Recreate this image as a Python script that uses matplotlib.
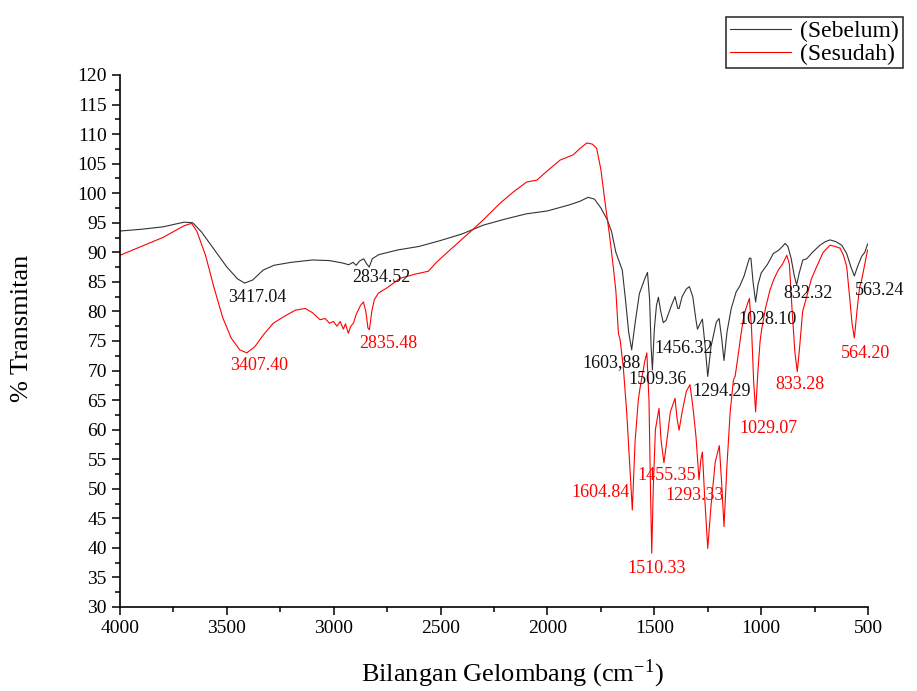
import matplotlib.pyplot as plt
from matplotlib.ticker import MultipleLocator

plt.rcParams['font.family'] = ['Liberation Serif', 'DejaVu Serif']
plt.rcParams['mathtext.fontset'] = 'stix'

# wavenumber (cm-1) / % transmittance
sebelum_wn = [4000, 3900, 3800, 3700, 3660, 3620, 3560, 3500, 3450, 3417, 3380, 3330,
              3280, 3200, 3100, 3020, 2960, 2930, 2910, 2895, 2880, 2860, 2845, 2834,
              2820, 2790, 2700, 2600, 2500, 2400, 2353, 2300, 2200, 2100, 2000, 1950,
              1900, 1850, 1810, 1780, 1750, 1720, 1700, 1680, 1665, 1650, 1635, 1620,
              1606, 1590, 1570, 1545, 1532, 1522, 1515, 1509, 1500, 1490, 1481, 1470,
              1458, 1445, 1420, 1403, 1390, 1384, 1370, 1350, 1336, 1320, 1305, 1298,
              1285, 1275, 1262, 1250, 1235, 1210, 1197, 1185, 1174, 1160, 1140, 1117,
              1100, 1080, 1067, 1055, 1048, 1038, 1026, 1015, 1000, 990, 970, 943,
              920, 900, 888, 875, 860, 845, 834, 822, 805, 787, 760, 725,
              700, 678, 650, 623, 600, 580, 564, 550, 530, 515, 502]
sebelum_t = [93.6, 93.9, 94.3, 95.1, 95.0, 93.5, 90.5, 87.5, 85.5, 84.8, 85.3, 87.0,
             87.8, 88.3, 88.7, 88.6, 88.2, 87.9, 88.3, 87.8, 88.5, 88.9, 88.0, 87.5,
             88.9, 89.6, 90.4, 91.0, 92.0, 93.1, 93.8, 94.6, 95.6, 96.5, 97.0, 97.5,
             98.0, 98.6, 99.3, 99.0, 97.5, 95.5, 93.5, 90.0, 88.5, 87.0, 82.0, 76.5,
             73.5, 78.0, 83.0, 85.5, 86.6, 82.0, 74.0, 70.1, 77.0, 81.0, 82.4, 80.0,
             78.1, 78.5, 81.0, 82.5, 80.5, 80.5, 82.5, 83.8, 84.2, 82.5, 78.5, 77.0,
             78.0, 78.7, 74.0, 69.0, 74.0, 78.2, 78.8, 75.5, 71.7, 76.5, 80.5, 83.3,
             84.3, 86.0, 87.6, 89.0, 89.0, 85.0, 81.6, 84.5, 86.5, 87.0, 88.0, 89.8,
             90.3, 91.0, 91.5, 91.0, 89.0, 86.0, 84.5, 86.5, 88.7, 88.9, 90.0, 91.2,
             91.8, 92.1, 91.8, 91.2, 89.8, 87.5, 86.0, 87.5, 89.3, 90.0, 91.4]

sesudah_wn = [4000, 3900, 3800, 3700, 3665, 3640, 3600, 3560, 3520, 3480, 3440, 3407,
              3370, 3330, 3283, 3230, 3180, 3134, 3100, 3064, 3040, 3020, 3002, 2985,
              2970, 2955, 2945, 2932, 2920, 2908, 2895, 2875, 2861, 2850, 2840, 2833,
              2822, 2810, 2791, 2750, 2690, 2620, 2557, 2520, 2456, 2400, 2351, 2300,
              2222, 2160, 2097, 2050, 2000, 1941, 1879, 1850, 1816, 1790, 1770, 1750,
              1730, 1710, 1692, 1680, 1668, 1660, 1645, 1629, 1615, 1603, 1590, 1575,
              1567, 1545, 1535, 1525, 1518, 1512, 1505, 1495, 1478, 1468, 1455, 1440,
              1425, 1403, 1394, 1384, 1370, 1350, 1333, 1320, 1305, 1291, 1282, 1275,
              1265, 1250, 1235, 1215, 1196, 1185, 1174, 1160, 1145, 1130, 1122, 1110,
              1095, 1080, 1062, 1055, 1045, 1035, 1026, 1015, 1005, 998, 980, 959,
              940, 920, 900, 880, 868, 855, 842, 831, 820, 806, 787, 765,
              740, 710, 678, 655, 631, 615, 600, 585, 575, 564, 552, 540,
              530, 515, 502]
sesudah_t = [89.5, 91.0, 92.5, 94.5, 94.9, 93.5, 89.5, 84.0, 79.0, 75.5, 73.5, 73.0,
             74.0, 76.0, 78.0, 79.2, 80.2, 80.5, 79.8, 78.6, 78.8, 78.0, 78.3, 77.5,
             78.3, 77.0, 77.9, 76.3, 77.5, 78.0, 79.5, 81.0, 81.6, 80.0, 77.2, 76.9,
             80.0, 82.0, 83.1, 84.0, 85.6, 86.3, 86.8, 88.3, 90.4, 92.2, 93.8, 95.5,
             98.3, 100.2, 101.9, 102.2, 103.8, 105.6, 106.5, 107.5, 108.5, 108.3, 107.6, 104.0,
             98.3, 93.0, 87.5, 83.5, 76.3, 75.2, 70.5, 62.8, 54.0, 46.4, 58.0, 65.0,
             67.0, 71.5, 73.0, 65.0, 50.0, 39.1, 50.0, 60.0, 63.6, 58.0, 54.4, 58.5,
             63.0, 65.3, 62.0, 59.9, 63.0, 66.5, 67.6, 64.0, 58.8, 51.5, 55.0, 56.2,
             49.0, 39.9, 47.0, 54.5, 57.3, 51.0, 43.6, 54.0, 63.0, 68.4, 69.0, 72.0,
             76.0, 79.5, 81.5, 82.2, 77.0, 68.0, 63.0, 70.0, 75.0, 76.9, 80.5, 83.6,
             85.5, 87.0, 88.0, 89.5, 88.0, 80.0, 73.0, 69.8, 74.0, 80.0, 82.5, 85.5,
             87.6, 90.0, 91.2, 91.0, 90.7, 89.5, 87.6, 82.0, 78.0, 75.5, 80.0, 84.0,
             85.3, 88.0, 90.4]

# peak labels: text, x, y
sebelum_labels = [("3417.04", 3359, 82.3), ("2834.52", 2779, 85.7), ("1603,88", 1698, 71.3),
                  ("1456.32", 1361, 73.8), ("1509.36", 1487, 68.4), ("1294.29", 1183, 66.4),
                  ("1028.10", 968, 78.6), ("832.32", 781, 83.0), ("563.24", 444, 83.6)]
sesudah_labels = [("3407.40", 3350, 70.9), ("2835.48", 2746, 74.5), ("1604.84", 1754, 49.3),
                  ("1455.35", 1442, 52.3), ("1293.33", 1309, 48.9), ("1510.33", 1489, 36.5),
                  ("1029.07", 966, 60.2), ("833.28", 818, 67.6), ("564.20", 514, 72.9)]

fig = plt.figure(figsize=(9.17, 6.91), dpi=100)
ax = fig.add_axes([0.1309, 0.1216, 0.8157, 0.7699])

ax.plot(sebelum_wn, sebelum_t, color="#333333", linewidth=0.8, label="(Sebelum)")
ax.plot(sesudah_wn, sesudah_t, color="#ff0000", linewidth=0.8, label="(Sesudah)")

for txt, x, y in sebelum_labels:
    ax.text(x, y, txt, color="#111111", fontsize=13, ha="center", va="center", clip_on=False)
for txt, x, y in sesudah_labels:
    ax.text(x, y, txt, color="#ff0000", fontsize=13, ha="center", va="center", clip_on=False)

ax.set_xlim(4000, 500)
ax.set_ylim(30, 120)
ax.xaxis.set_major_locator(MultipleLocator(500))
ax.xaxis.set_minor_locator(MultipleLocator(250))
ax.yaxis.set_major_locator(MultipleLocator(5))
ax.yaxis.set_minor_locator(MultipleLocator(2.5))
ax.tick_params(which="major", direction="out", length=6, width=1.1, labelsize=14)
ax.tick_params(which="minor", direction="out", length=3.5, width=1.1)
ax.spines["top"].set_visible(False)
ax.spines["right"].set_visible(False)
for s in ("left", "bottom"):
    ax.spines[s].set_linewidth(1.2)

fig.text(513 / 917, 1 - 674 / 691, r"Bilangan Gelombang (cm$^{\mathregular{-1}}$)",
         fontsize=19, ha="center", va="center")
fig.text(22 / 917, 1 - 328 / 691, "% Transmitan", fontsize=19, rotation=90,
         ha="center", va="center")

leg = fig.legend(loc="upper left", bbox_to_anchor=(726 / 917, 1 - 17 / 691),
                 fontsize=17, frameon=True, fancybox=False, handlelength=2.6,
                 borderpad=0.15, labelspacing=0.05, handletextpad=0.4, borderaxespad=0)
leg.get_frame().set_edgecolor("black")
leg.get_frame().set_linewidth(1.2)

fig.savefig("out.png", dpi=100)
